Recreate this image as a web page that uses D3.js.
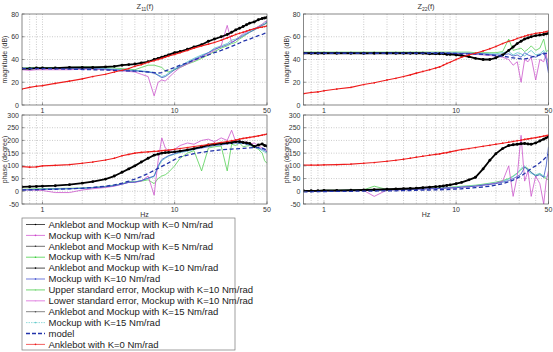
<!DOCTYPE html>
<html>
<head>
<meta charset="utf-8">
<script src="https://cdn.jsdelivr.net/npm/d3@7"></script>
<style>
  body { margin: 0; background: #fff; }
  svg { display: block; font-family: "Liberation Sans", Arial, sans-serif; }
</style>
</head>
<body>
<div id="chart"></div>
<script>
// frequency grid (Hz) shared by every trace
const freqHz = [0.7, 0.8, 0.9, 1, 1.25, 1.6, 2, 2.4, 3, 3.5, 4, 4.5, 5, 5.6, 6.3, 7, 7.5, 8, 8.5, 9,
                10, 11, 12.5, 14, 16, 18, 20, 22.5, 25, 27, 29, 31, 33, 35, 37, 40, 43, 46, 48, 50];

// Z11 magnitude (dB)
const z11MagAnkleMock = [32,32,32.5,32.5,32.5,33,33,33,33.5,34,35,35.5,36,37,38,40,41,42,43,44,46,47,49,51,53,56,58,60,62,64,66,67.5,69,70.5,72,73,75,76,76.5,77];
const z11MagAnklebot = [14,15.5,16.5,17,19,21,23,25,27,29,30.5,32,34,35.5,37.5,39,40,41,42,43,44.5,46,48,50,52,53.5,55,57,59,60.5,62,63,64,65,66,67,68,68.5,69,69.5];
const z11MagModel = [32,32,32,32,31.8,31.5,31.2,31,30.8,30.5,30.2,30,29.8,29.5,29,28.5,28,28.5,30,31,33,35,37,39.5,42,44,46,48,50,51.5,53,54.5,56,57,58,59.5,61,62,63,64];
const z11MagMock0 = [31,30.5,31,31,31,31,31.5,31.5,31,30.5,30,29.5,29,27,25,8,20,22,21,24,29,33,36,39,42,45,48,52,70,55,57,60,63,64,66,67,69,71,73,74];
const z11MagMock5 = [32,33,33,33,33,33,33.5,33.5,33,32.5,32,31.5,31,33,35,35,34,33,30,29,31,33,36,38,41,44,47,50,52,54,55,58,60,62,64,66,68,70,71,72];
const z11MagMock10 = [32,32,32,32,32,32,32,32,31.5,31,30.5,30,30,29.5,29,28,26,24,25,27,31,34,37,40,43,46,49,51,53,55,57,59,61,62.5,64,66,68,70,71,73];
const z11MagMock15 = [32.5,32.5,32.5,32.5,32.5,32.5,32.5,32,32,31.5,31,30.5,30.5,30,29.5,28.5,26.5,25,26,28,32,34,38,41,44,46,50,52,54,57,58,60,62,63,65,67,69,71,72,74];

// Z11 phase (degree)
const z11PhAnkleMock = [17,18,19,20,22,26,32,38,48,60,75,88,100,115,130,142,146,150,152,153,155,158,163,168,175,182,185,188,190,192,195,195,192,190,188,176,182,186,180,178];
const z11PhAnklebot = [97,95,96,100,102,105,110,115,123,130,140,145,150,153,155,157,158,160,161,162,165,168,172,176,180,184,188,192,196,199,202,205,208,210,212,215,218,221,223,225];
const z11PhModel = [5,6,6,7,8,10,12,15,20,25,32,40,48,58,70,82,90,98,105,112,125,135,142,148,153,157,160,163,165,166,167,168,169,170,171,172,172,170,166,162];
const z11PhMock0 = [5,5,4,3,-5,-5,5,10,15,20,28,35,35,40,60,-15,120,210,170,160,165,180,190,185,200,205,195,210,200,240,195,200,190,195,185,190,180,170,165,160];
const z11PhMock5 = [8,9,10,10,11,12,13,15,19,24,30,38,38,40,45,30,50,60,65,75,100,130,150,160,80,170,175,178,80,185,180,190,175,178,180,175,165,150,120,110];
const z11PhMock10 = [5,6,7,8,9,10,12,14,18,22,28,35,36,42,52,60,100,125,133,140,148,155,160,165,170,175,180,182,186,188,190,188,190,185,182,178,170,165,160,155];
const z11PhMock15 = [6,7,8,8,9,10,12,14,18,23,29,36,37,42,50,58,95,120,130,138,146,152,158,165,172,178,182,185,188,190,192,190,188,186,182,175,168,160,155,150];

// Z22 magnitude (dB)
const z22MagAnkleMock = [45.5,45.5,45.5,45.5,45.5,45.5,45.5,45.5,45.5,45.5,45.5,45.5,45.5,45.5,45,45,45,45,44.5,44.5,44,43.5,42.5,41,40,40,41.5,44,48,51,54,56,58,59,60,61,61.5,62,62.5,63];
const z22MagAnklebot = [10,11,11.5,12.5,14,15.5,18,19.5,22,23.5,25,26.5,28,29.5,31,32.5,33.5,35,36.5,37.5,40,42,44,45.5,47.5,49.5,51.5,54,56,57,58.5,59.5,60.5,61.5,62,63,63.5,64,64.5,65];
const z22MagModel = [45.5,45.5,45.5,45.5,45.5,45.5,45.5,45.5,45.5,45.5,45.5,45.5,45.5,45.5,45.5,45.5,45.5,45.5,45.5,45.5,45.3,45,45,44.8,44.5,44,43.5,43,42,41.5,41,40.5,40.5,41,42,43,44,45,45.5,46];
const z22MagMock0 = [45.5,45.5,45.5,45.5,45.5,45.5,45.5,45.5,45.5,45.5,45.5,45.5,45.5,45.5,45.5,45.5,45.5,45.5,45.5,45.5,45,45,45,44.5,44,43.5,43,42,40,35,38,20,40,38,42,22,40,38,45,30];
const z22MagMock5 = [46.5,46.5,46.5,46.5,46.5,46.5,46.5,46.5,46.5,46.5,46.5,46.5,46.5,46.5,46.5,46.5,46.5,46.5,46.5,46.5,46.5,46.5,46.5,46,46,46,46,47,58,48,49,50,47,49,52,48,50,58,47,48];
const z22MagMock10 = [46,46,46,46,46,45.8,45,45.5,46,46,46,46,46,46,45.8,45.8,45.8,45.8,45.5,45.5,45.5,45.5,45.5,45,45,44.5,44,44,45,43,44,42,46,44,43,42,44,46,40,28];
const z22MagMock15 = [46,46,46,46,46,46,45.5,46,46,46,46,46,46,46,46,46,46,46,46,45.8,45.8,45.5,45.5,45.5,45,45,45,46,47,44,46,45,43,46,48,44,45,48,42,38];

// Z22 phase (degree)
const z22PhAnkleMock = [2,2,2,3,3,4,5,6,8,9,10,11,12,14,16,18,19,21,23,25,30,35,45,55,88,122,148,168,180,183,185,187,188,186,185,190,198,205,210,216];
const z22PhAnklebot = [103,103,103,104,105,107,110,113,118,122,126,130,134,138,142,145,147,150,152,155,160,164,168,172,177,181,185,189,193,196,199,201,204,206,208,211,214,217,219,221];
const z22PhModel = [-2,-2,-1,-1,0,0,1,1,2,2,3,3,4,5,5,6,6,7,7,8,9,10,12,14,17,20,24,30,37,44,52,60,70,80,90,100,112,125,135,145];
const z22PhMock0 = [1,1,1,2,2,3,3,-20,5,6,6,7,8,9,10,11,11,12,13,13,14,16,18,20,24,28,32,40,100,-20,60,220,40,80,-20,60,30,-50,40,80];
const z22PhMock5 = [3,3,3,4,4,5,6,20,7,8,8,9,10,11,12,13,13,14,15,16,18,20,22,24,28,32,36,42,50,60,72,85,95,90,75,60,70,55,50,45];
const z22PhMock10 = [1,1,1,2,2,3,3,4,5,6,6,7,8,9,10,11,11,12,13,13,14,16,18,20,24,27,30,36,42,50,58,68,95,85,75,60,65,55,100,175];
const z22PhMock15 = [2,2,2,3,3,4,4,5,6,7,7,8,9,10,11,12,12,13,14,15,16,18,20,22,26,30,34,40,48,58,70,90,100,80,70,65,70,60,55,65];

// tick values
const magTicks = [0, 20, 40, 60, 80];
const phaseTicks = [-50, 0, 50, 100, 150, 200, 250, 300];
const freqLabels = [1, 10, 50];
const freqGrid = [0.8, 0.9, 1, 2, 3, 4, 5, 6, 7, 8, 9, 10, 20, 30, 40];

// legend entries
const legendLabels = [
  "Anklebot and Mockup with K=0 Nm/rad",
  "Mockup with K=0 Nm/rad",
  "Anklebot and Mockup with K=5 Nm/rad",
  "Mockup with K=5 Nm/rad",
  "Anklebot and Mockup with K=10 Nm/rad",
  "Mockup with K=10 Nm/rad",
  "Upper standard error, Mockup with K=10 Nm/rad",
  "Lower standard error, Mockup with K=10 Nm/rad",
  "Anklebot and Mockup with K=15 Nm/rad",
  "Mockup with K=15 Nm/rad",
  "model",
  "Anklebot with K=0 Nm/rad"
];
const legendColors = ["#000000", "#cc44cc", "#333333", "#33cc33", "#000000", "#3344cc",
                      "#88dd88", "#e699e6", "#555555", "#66cccc", "#2233aa", "#ee1c1c"];

/****************************/
/*     Styles of traces     */
/****************************/
const traceStyle = {
  mock5:     {color: "#55d055", width: 0.8},
  mock15:    {color: "#66cccc", width: 0.9},
  mock0:     {color: "#cc55cc", width: 0.8},
  mock10:    {color: "#3b55c8", width: 0.8},
  ankleMock: {color: "#000000", width: 1.8, dots: true},
  model:     {color: "#2233aa", width: 1.3, dash: "4,2.5"},
  anklebot:  {color: "#ee1c1c", width: 1.1, dots: true}
};

const svg = d3.select("#chart")
  .append("svg")
    .attr("width", 553)
    .attr("height", 352);

const xLeft = d3.scaleLog().domain([0.7, 50]).range([22, 267]);
const xRight = d3.scaleLog().domain([0.7, 50]).range([303.5, 548.5]);
const yMag = d3.scaleLinear().domain([0, 80]).range([105, 14]);
const yPhase = d3.scaleLinear().domain([-50, 300]).range([204, 115]);

let clipId = 0;
const drawPanel = (xScale, yScale, yTicks, traces, yLabel) => {
  const [x0, x1] = xScale.range();
  const [y1, y0] = yScale.range();
  const g = svg.append("g");

  // grid
  g.selectAll(".gx").data(freqGrid).join("line")
    .attr("x1", d => xScale(d)).attr("x2", d => xScale(d))
    .attr("y1", y0).attr("y2", y1)
    .attr("stroke", "#aaa").attr("stroke-width", 0.6).attr("stroke-dasharray", "1,1.5");
  g.selectAll(".gy").data(yTicks.slice(1, -1)).join("line")
    .attr("x1", x0).attr("x2", x1)
    .attr("y1", d => yScale(d)).attr("y2", d => yScale(d))
    .attr("stroke", "#aaa").attr("stroke-width", 0.6).attr("stroke-dasharray", "1,1.5");

  // traces
  const id = "clip" + (clipId++);
  svg.append("clipPath").attr("id", id)
    .append("rect").attr("x", x0).attr("y", y0).attr("width", x1 - x0).attr("height", y1 - y0);
  const plot = g.append("g").attr("clip-path", `url(#${id})`);
  const line = d3.line().x((d, i) => xScale(freqHz[i])).y(d => yScale(d));
  traces.forEach(([key, values]) => {
    const s = traceStyle[key];
    plot.append("path")
      .attr("d", line(values))
      .attr("fill", "none")
      .attr("stroke", s.color)
      .attr("stroke-width", s.width)
      .attr("stroke-dasharray", s.dash || null)
      .attr("stroke-linejoin", "round");
    if (s.dots) {
      plot.selectAll(null).data(values).join("circle")
        .attr("cx", (d, i) => xScale(freqHz[i]))
        .attr("cy", d => yScale(d))
        .attr("r", s.width * 0.8)
        .attr("fill", s.color);
    }
  });

  // frame
  g.append("rect")
    .attr("x", x0).attr("y", y0).attr("width", x1 - x0).attr("height", y1 - y0)
    .attr("fill", "none").attr("stroke", "#555").attr("stroke-width", 0.7);

  // tick marks and labels
  const y = yTicks;
  g.selectAll(".ty").data(y).join("text")
    .attr("x", x0 - 3).attr("y", d => yScale(d) + 2.5)
    .attr("text-anchor", "end").attr("font-size", 7).attr("fill", "#333")
    .text(d => d);
  g.selectAll(".tym").data(y).join("line")
    .attr("x1", x0).attr("x2", x0 + 2.5)
    .attr("y1", d => yScale(d)).attr("y2", d => yScale(d))
    .attr("stroke", "#555").attr("stroke-width", 0.6);
  g.selectAll(".tx").data(freqLabels).join("text")
    .attr("x", d => xScale(d)).attr("y", y1 + 8)
    .attr("text-anchor", "middle").attr("font-size", 7).attr("fill", "#333")
    .text(d => d);
  g.selectAll(".txm").data(freqLabels).join("line")
    .attr("x1", d => xScale(d)).attr("x2", d => xScale(d))
    .attr("y1", y1).attr("y2", y1 - 2.5)
    .attr("stroke", "#555").attr("stroke-width", 0.6);

  g.append("text")
    .attr("transform", `translate(${x0 - 15},${(y0 + y1) / 2}) rotate(-90)`)
    .attr("text-anchor", "middle").attr("font-size", 7).attr("fill", "#333")
    .text(yLabel);
  return g;
};

drawPanel(xLeft, yMag, magTicks, [
  ["mock5", z11MagMock5], ["mock15", z11MagMock15], ["mock0", z11MagMock0], ["mock10", z11MagMock10],
  ["ankleMock", z11MagAnkleMock], ["model", z11MagModel], ["anklebot", z11MagAnklebot]
], "magnitude (dB)");
drawPanel(xRight, yMag, magTicks, [
  ["mock5", z22MagMock5], ["mock15", z22MagMock15], ["mock0", z22MagMock0], ["mock10", z22MagMock10],
  ["ankleMock", z22MagAnkleMock], ["model", z22MagModel], ["anklebot", z22MagAnklebot]
], "magnitude (dB)");
drawPanel(xLeft, yPhase, phaseTicks, [
  ["mock5", z11PhMock5], ["mock15", z11PhMock15], ["mock0", z11PhMock0], ["mock10", z11PhMock10],
  ["ankleMock", z11PhAnkleMock], ["model", z11PhModel], ["anklebot", z11PhAnklebot]
], "phase (degree)");
drawPanel(xRight, yPhase, phaseTicks, [
  ["mock5", z22PhMock5], ["mock15", z22PhMock15], ["mock0", z22PhMock0], ["mock10", z22PhMock10],
  ["ankleMock", z22PhAnkleMock], ["model", z22PhModel], ["anklebot", z22PhAnklebot]
], "phase (degree)");

// titles and axis names
const title = (x, sub) => {
  const t = svg.append("text").attr("x", x).attr("y", 9)
    .attr("text-anchor", "middle").attr("font-size", 7.5).attr("fill", "#333");
  t.append("tspan").text("Z");
  t.append("tspan").attr("font-size", 5).attr("dy", 2).text(sub);
  t.append("tspan").attr("dy", -2).text("(f)");
};
title(145, "11");
title(426, "22");
[xLeft, xRight].forEach(xs => {
  svg.append("text")
    .attr("x", (xs.range()[0] + xs.range()[1]) / 2).attr("y", 217)
    .attr("text-anchor", "middle").attr("font-size", 7).attr("fill", "#333")
    .text("Hz");
});

/****************************/
/*          Legend          */
/****************************/
const legend = svg.append("g");
legend.append("rect")
  .attr("x", 22).attr("y", 218).attr("width", 213).attr("height", 132)
  .attr("fill", "#fff").attr("stroke", "#777").attr("stroke-width", 0.7);
const rowY = i => 224.5 + i * 10.9;
legendLabels.forEach((label, i) => {
  const isModel = label === "model";
  legend.append("line")
    .attr("x1", 26).attr("x2", 45).attr("y1", rowY(i)).attr("y2", rowY(i))
    .attr("stroke", legendColors[i])
    .attr("stroke-width", isModel ? 1.3 : (i === 6 || i === 7 ? 1.2 : 0.7))
    .attr("stroke-dasharray", isModel ? "4,2" : (i === 9 ? "1.5,1" : null));
  if (!isModel) {
    legend.append("circle").attr("cx", 35.5).attr("cy", rowY(i)).attr("r", 0.8)
      .attr("fill", legendColors[i]);
  }
  legend.append("text")
    .attr("x", 48.5).attr("y", rowY(i) + 3.2)
    .attr("font-size", 9.5).attr("fill", "#222")
    .text(label);
});
</script>
</body>
</html>
